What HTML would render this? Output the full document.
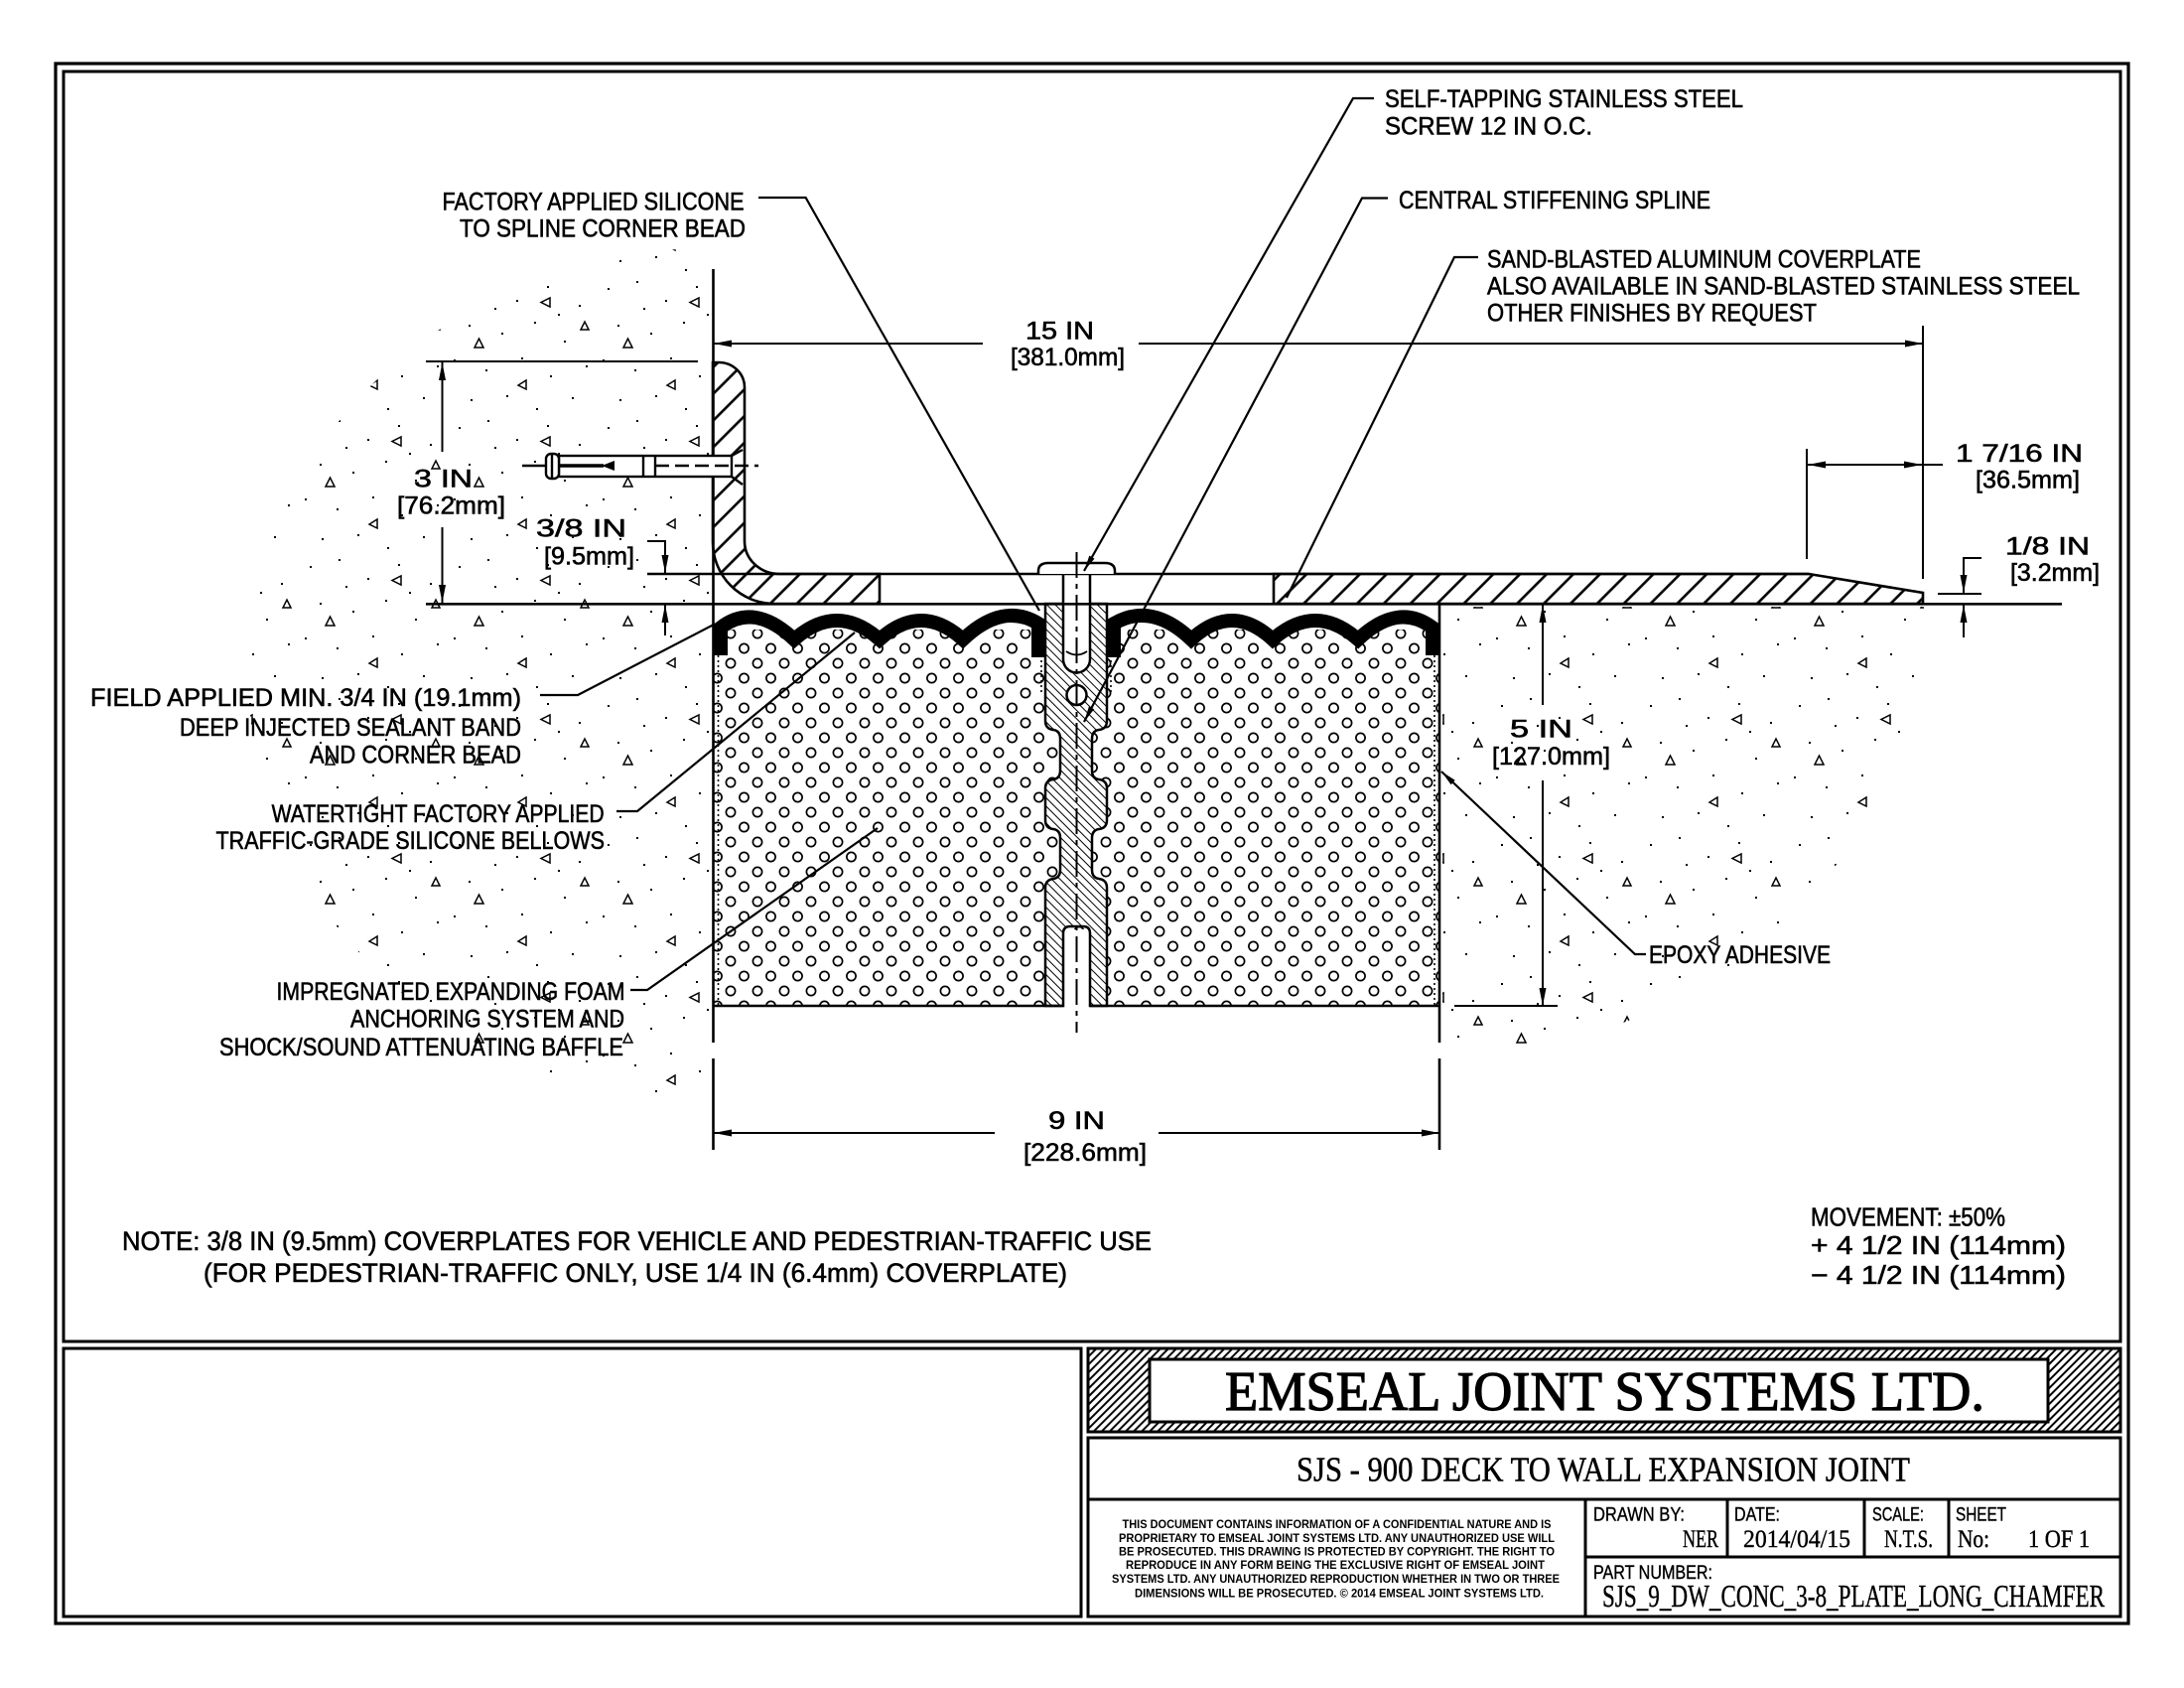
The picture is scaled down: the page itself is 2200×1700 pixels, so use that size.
<!DOCTYPE html>
<html><head><meta charset="utf-8"><style>
html,body{margin:0;padding:0;background:#fff;width:2200px;height:1700px;overflow:hidden}
svg{display:block}
.t{font-family:"Liberation Sans",sans-serif;font-size:25px;fill:#000;stroke:#000;stroke-width:0.6px}
.s{font-family:"Liberation Serif",serif;fill:#000}
.nb{stroke:none}
</style></head><body>
<svg width="2200" height="1700" viewBox="0 0 2200 1700" xmlns="http://www.w3.org/2000/svg">
<defs>
<pattern id="conc" width="150" height="140" patternUnits="userSpaceOnUse">
<g fill="#000">
<rect x="12" y="10" width="2" height="2"/><rect x="41" y="3" width="2" height="2"/>
<rect x="70" y="22" width="2" height="2"/><rect x="101" y="8" width="2" height="2"/>
<rect x="133" y="27" width="2" height="2"/><rect x="22" y="47" width="2" height="2"/>
<rect x="55" y="55" width="2" height="2"/><rect x="88" y="44" width="2" height="2"/>
<rect x="118" y="63" width="2" height="2"/><rect x="7" y="82" width="2" height="2"/>
<rect x="39" y="92" width="2" height="2"/><rect x="75" y="80" width="2" height="2"/>
<rect x="104" y="98" width="2" height="2"/><rect x="140" y="88" width="2" height="2"/>
<rect x="24" y="122" width="2" height="2"/><rect x="60" y="118" width="2" height="2"/>
<rect x="90" y="131" width="2" height="2"/><rect x="126" y="120" width="2" height="2"/>
<rect x="48" y="30" width="2" height="2"/><rect x="112" y="36" width="2" height="2"/>
</g>
<g fill="none" stroke="#000" stroke-width="1.5">
<path d="M28,70 l9,0 l-4.5,-9 z"/>
<path d="M104,20 l0,9 l-9,-4.5 z"/>
<path d="M80,112 l-8,-4 l8,-5 z"/>
<path d="M135,52 l8,0 l-4,-8 z"/>
</g>
</pattern>
<pattern id="foam" width="27" height="30" patternUnits="userSpaceOnUse">
<circle cx="7" cy="8" r="4.6" fill="none" stroke="#000" stroke-width="1.7"/>
<circle cx="20.5" cy="23" r="4.6" fill="none" stroke="#000" stroke-width="1.7"/>
</pattern>
<pattern id="hA" width="19" height="19" patternUnits="userSpaceOnUse" patternTransform="rotate(45)">
<line x1="9.5" y1="0" x2="9.5" y2="19" stroke="#000" stroke-width="2.6"/>
</pattern>
<pattern id="hS" width="6" height="6" patternUnits="userSpaceOnUse" patternTransform="rotate(-45)">
<line x1="3" y1="0" x2="3" y2="6" stroke="#000" stroke-width="1"/>
</pattern>
<pattern id="hT" width="5.7" height="5.7" patternUnits="userSpaceOnUse" patternTransform="rotate(45)">
<line x1="2.85" y1="0" x2="2.85" y2="5.7" stroke="#000" stroke-width="2"/>
</pattern>
<clipPath id="clipL"><path d="M716,250 A466,430 0 0 0 716,1110 Z"/></clipPath>
<clipPath id="clipR"><path d="M1453,611 H1938 A485,452 0 0 1 1453,1063 Z"/></clipPath>
</defs>

<!-- concrete stipple -->
<rect x="240" y="240" width="480" height="880" fill="url(#conc)" clip-path="url(#clipL)"/>
<rect x="1450" y="611" width="500" height="460" fill="url(#conc)" clip-path="url(#clipR)"/>

<!-- foam -->
<rect x="719" y="634" width="731" height="379" fill="url(#foam)"/>
<rect x="1071" y="936" width="27" height="77" fill="#fff"/>

<!-- spline -->
<path d="M1053,608 H1115 V726 Q1115,734 1107,735 Q1100,736 1100,744 V776 Q1100,784 1107,785 Q1115,786 1115,794 V826 Q1115,834 1107,835 Q1100,836 1100,844 V876 Q1100,884 1107,885 Q1115,886 1115,894 V1013 H1098 V940 Q1098,933 1091,933 H1078 Q1071,933 1071,940 V1013 H1053 V894 Q1053,886 1061,885 Q1068,884 1068,876 V844 Q1068,836 1061,835 Q1053,834 1053,826 V794 Q1053,786 1061,785 Q1068,784 1068,776 V744 Q1068,736 1061,735 Q1053,734 1053,726 Z" fill="#fff"/>
<path d="M1053,608 H1115 V726 Q1115,734 1107,735 Q1100,736 1100,744 V776 Q1100,784 1107,785 Q1115,786 1115,794 V826 Q1115,834 1107,835 Q1100,836 1100,844 V876 Q1100,884 1107,885 Q1115,886 1115,894 V1013 H1098 V940 Q1098,933 1091,933 H1078 Q1071,933 1071,940 V1013 H1053 V894 Q1053,886 1061,885 Q1068,884 1068,876 V844 Q1068,836 1061,835 Q1053,834 1053,826 V794 Q1053,786 1061,785 Q1068,784 1068,776 V744 Q1068,736 1061,735 Q1053,734 1053,726 Z" fill="url(#hS)" stroke="#000" stroke-width="2.5"/>

<!-- screw shank & circle -->
<path d="M1071,578 V664 A13.5,13.5 0 0 0 1098,664 V578" fill="#fff" stroke="#000" stroke-width="2.5"/>
<path d="M1074,656 Q1084.5,663 1095,656" fill="none" stroke="#000" stroke-width="1.8"/>
<circle cx="1084.5" cy="700" r="10" fill="#fff" stroke="#000" stroke-width="2.5"/>

<!-- bellows -->
<g fill="none" stroke="#000" stroke-width="14" stroke-linejoin="miter" stroke-miterlimit="4">
<path d="M726,660 V632 Q760,606 800,644 Q843,606 886,644 Q928,606 970,644 Q1010,606 1046,628 V662"/>
<path d="M1122,662 V628 Q1160,606 1200,644 Q1241,606 1282,644 Q1325,606 1368,644 Q1408,606 1443,632 V660"/>
</g>

<!-- epoxy dotted lines -->
<g stroke="#000" stroke-width="1.6" stroke-dasharray="2 3" fill="none">
<line x1="723.5" y1="655" x2="723.5" y2="1012"/>
<line x1="1445" y1="655" x2="1445" y2="1012"/>
<line x1="1049" y1="660" x2="1049" y2="700"/>
<line x1="1119" y1="660" x2="1119" y2="700"/>
</g>

<!-- main object lines -->
<g stroke="#000" stroke-width="2.6" fill="none">
<line x1="718.5" y1="271" x2="718.5" y2="1050"/>
<line x1="718.5" y1="1066" x2="718.5" y2="1158"/>
<line x1="1450" y1="608" x2="1450" y2="1050"/>
<line x1="1450" y1="1066" x2="1450" y2="1158"/>
<line x1="719" y1="1013" x2="1071" y2="1013"/>
<line x1="1098" y1="1013" x2="1450" y2="1013"/>
<line x1="429" y1="608.3" x2="2077" y2="608.3"/>
<line x1="652" y1="578" x2="1822" y2="578"/>
</g>

<!-- coverplate hatched -->
<path d="M1283,578 H1822 L1937,597 V608 H1283 Z" fill="url(#hA)" stroke="#000" stroke-width="2.6"/>

<!-- angle -->
<path d="M718,365 H724 A26,25 0 0 1 750,390 V545 A35,33 0 0 0 785,578 H886 V608 H780 A62,62 0 0 1 718,546 Z" fill="url(#hA)" stroke="#000" stroke-width="2.6"/>

<!-- screw head -->
<path d="M1046,578 V575 Q1046,567 1056,567 H1113 Q1123,567 1123,575 V578" fill="#fff" stroke="#000" stroke-width="2.5"/>
<line x1="1084.5" y1="556" x2="1084.5" y2="1040" stroke="#000" stroke-width="2" stroke-dasharray="26 6 5 6"/>

<!-- anchor -->
<g stroke="#000" stroke-width="2.4" fill="#fff">
<rect x="563" y="459" width="174" height="21"/>
<rect x="550" y="457" width="13" height="25" rx="5"/>
<line x1="556" y1="458" x2="556" y2="481"/>
<line x1="648" y1="459" x2="648" y2="480"/>
<line x1="660" y1="459" x2="660" y2="480"/>
<path d="M737,459 L748,453 M737,480 L748,488" fill="none"/>
<line x1="526" y1="469" x2="550" y2="469"/>
<line x1="563" y1="469" x2="608" y2="469" stroke-width="3.5"/>
<line x1="660" y1="469" x2="764" y2="469" stroke-dasharray="14 6"/>
</g>
<polygon points="606,469 619,464 619,474" fill="#000"/>

<!-- dimension lines -->
<g stroke="#000" stroke-width="2" fill="none">
<line x1="719" y1="346" x2="990" y2="346"/><line x1="1147" y1="346" x2="1937" y2="346"/>
<line x1="1937" y1="328" x2="1937" y2="583"/>
<line x1="1820" y1="452" x2="1820" y2="563"/>
<line x1="1820" y1="468" x2="1957" y2="468"/>
<line x1="1952" y1="598" x2="1996" y2="598"/>
<path d="M1996,562 H1978 V597"/>
<line x1="1978" y1="609" x2="1978" y2="642"/>
<line x1="429" y1="364" x2="703" y2="364"/>
<line x1="445.5" y1="364" x2="445.5" y2="455"/><line x1="445.5" y1="531" x2="445.5" y2="607"/>
<path d="M652,545 H670 V577"/>
<line x1="670" y1="609" x2="670" y2="640"/>
<line x1="1554" y1="609" x2="1554" y2="710"/><line x1="1554" y1="786" x2="1554" y2="1013"/>
<line x1="1465" y1="1013" x2="1569" y2="1013"/>
<line x1="719" y1="1141" x2="1002" y2="1141"/><line x1="1167" y1="1141" x2="1450" y2="1141"/>
</g>
<g fill="#000">
<polygon points="719,346 737,342.5 737,349.5"/>
<polygon points="1937,346 1919,342.5 1919,349.5"/>
<polygon points="1821,468 1839,464.5 1839,471.5"/>
<polygon points="1936,468 1918,464.5 1918,471.5"/>
<polygon points="1978,597 1974.5,579 1981.5,579"/>
<polygon points="1978,609 1974.5,627 1981.5,627"/>
<polygon points="445.5,365 442,383 449,383"/>
<polygon points="445.5,607 442,589 449,589"/>
<polygon points="670,577 666.5,559 673.5,559"/>
<polygon points="670,609 666.5,627 673.5,627"/>
<polygon points="1554,609 1550.5,627 1557.5,627"/>
<polygon points="1554,1013 1550.5,995 1557.5,995"/>
<polygon points="719,1141 737,1137.5 737,1144.5"/>
<polygon points="1450,1141 1432,1137.5 1432,1144.5"/>
<polygon points="1092,575 1102.5,562.6 1097.3,559.6"/>
<polygon points="1092,727 1102.2,714.3 1096.9,711.5"/>
<polygon points="1452,777 1465.7,785.8 1461.6,790.2"/>
</g>

<!-- leaders -->
<g stroke="#000" stroke-width="2.2" fill="none">
<path d="M764,199 H811.6 L1047,615"/>
<path d="M1384,99 H1363 L1092,575"/>
<path d="M1398,199.5 H1372 L1092,727"/>
<path d="M1489,259 H1465 L1296,602"/>
<path d="M544,700 H582 L719,629"/>
<path d="M621,817 H642 L861,637"/>
<path d="M635,997 H652 L884,834"/>
<path d="M1658,961 H1647 L1452,777"/>
</g>

<!-- labels -->
<text class="t" x="445.5" y="211.5" textLength="304" lengthAdjust="spacingAndGlyphs">FACTORY APPLIED SILICONE</text>
<text class="t" x="463" y="238.5" textLength="288" lengthAdjust="spacingAndGlyphs">TO SPLINE CORNER BEAD</text>
<text class="t" x="1395" y="108" textLength="361" lengthAdjust="spacingAndGlyphs">SELF-TAPPING STAINLESS STEEL</text>
<text class="t" x="1395" y="135.5" textLength="209" lengthAdjust="spacingAndGlyphs">SCREW 12 IN O.C.</text>
<text class="t" x="1409" y="210" textLength="314" lengthAdjust="spacingAndGlyphs">CENTRAL STIFFENING SPLINE</text>
<text class="t" x="1498" y="269.5" textLength="437" lengthAdjust="spacingAndGlyphs">SAND-BLASTED ALUMINUM COVERPLATE</text>
<text class="t" x="1498" y="296.5" textLength="597" lengthAdjust="spacingAndGlyphs">ALSO AVAILABLE IN SAND-BLASTED STAINLESS STEEL</text>
<text class="t" x="1498" y="323.6" textLength="332" lengthAdjust="spacingAndGlyphs">OTHER FINISHES BY REQUEST</text>
<text class="t" x="1033" y="341.7" textLength="69" lengthAdjust="spacingAndGlyphs">15 IN</text>
<text class="t" x="1018" y="368" textLength="115" lengthAdjust="spacingAndGlyphs">[381.0mm]</text>
<text class="t" x="1970" y="465" textLength="128" lengthAdjust="spacingAndGlyphs">1 7/16 IN</text>
<text class="t" x="1990" y="491.7" textLength="105" lengthAdjust="spacingAndGlyphs">[36.5mm]</text>
<text class="t" x="417" y="490.5" textLength="59" lengthAdjust="spacingAndGlyphs">3 IN</text>
<text class="t" x="400" y="517.6" textLength="109" lengthAdjust="spacingAndGlyphs">[76.2mm]</text>
<text class="t" x="540" y="540.7" textLength="91" lengthAdjust="spacingAndGlyphs">3/8 IN</text>
<text class="t" x="548" y="568.3" textLength="91" lengthAdjust="spacingAndGlyphs">[9.5mm]</text>
<text class="t" x="2020" y="558.3" textLength="85" lengthAdjust="spacingAndGlyphs">1/8 IN</text>
<text class="t" x="2025" y="585" textLength="90" lengthAdjust="spacingAndGlyphs">[3.2mm]</text>
<text class="t" x="1521" y="742.5" textLength="63" lengthAdjust="spacingAndGlyphs">5 IN</text>
<text class="t" x="1503" y="770" textLength="119" lengthAdjust="spacingAndGlyphs">[127.0mm]</text>
<text class="t" x="91" y="711" textLength="434" lengthAdjust="spacingAndGlyphs">FIELD APPLIED MIN. 3/4 IN (19.1mm)</text>
<text class="t" x="181" y="741" textLength="344" lengthAdjust="spacingAndGlyphs">DEEP INJECTED SEALANT BAND</text>
<text class="t" x="312" y="768.6" textLength="213" lengthAdjust="spacingAndGlyphs">AND CORNER BEAD</text>
<text class="t" x="273.6" y="828" textLength="335" lengthAdjust="spacingAndGlyphs">WATERTIGHT FACTORY APPLIED</text>
<text class="t" x="217.5" y="855" textLength="391.5" lengthAdjust="spacingAndGlyphs">TRAFFIC-GRADE SILICONE BELLOWS</text>
<text class="t" x="278.5" y="1007" textLength="351" lengthAdjust="spacingAndGlyphs">IMPREGNATED EXPANDING FOAM</text>
<text class="t" x="353" y="1034.3" textLength="276" lengthAdjust="spacingAndGlyphs">ANCHORING SYSTEM AND</text>
<text class="t" x="221" y="1063" textLength="407" lengthAdjust="spacingAndGlyphs">SHOCK/SOUND ATTENUATING BAFFLE</text>
<text class="t" x="1056" y="1137" textLength="57" lengthAdjust="spacingAndGlyphs">9 IN</text>
<text class="t" x="1031" y="1169" textLength="124" lengthAdjust="spacingAndGlyphs">[228.6mm]</text>
<text class="t" x="1661" y="970" textLength="183" lengthAdjust="spacingAndGlyphs">EPOXY ADHESIVE</text>
<text class="t" style="font-size:27px" x="123" y="1259" textLength="1037" lengthAdjust="spacingAndGlyphs">NOTE: 3/8 IN (9.5mm) COVERPLATES FOR VEHICLE AND PEDESTRIAN-TRAFFIC USE</text>
<text class="t" style="font-size:27px" x="205" y="1291" textLength="870" lengthAdjust="spacingAndGlyphs">(FOR PEDESTRIAN-TRAFFIC ONLY, USE 1/4 IN (6.4mm) COVERPLATE)</text>
<text class="t" style="font-size:26px" x="1824" y="1234.5" textLength="196" lengthAdjust="spacingAndGlyphs">MOVEMENT: ±50%</text>
<text class="t" style="font-size:26px" x="1824" y="1263" textLength="257" lengthAdjust="spacingAndGlyphs">+ 4 1/2 IN (114mm)</text>
<text class="t" style="font-size:26px" x="1824" y="1293" textLength="257" lengthAdjust="spacingAndGlyphs">− 4 1/2 IN (114mm)</text>

<!-- frame -->
<g fill="none" stroke="#000">
<rect x="56" y="64" width="2088" height="1571" stroke-width="3.2"/>
<rect x="64" y="72" width="2072" height="1279" stroke-width="3"/>
<rect x="64" y="1358" width="1025" height="270" stroke-width="3"/>
</g>
<!-- title block -->
<rect x="1096" y="1358" width="1040" height="84" fill="url(#hT)" stroke="#000" stroke-width="3"/>
<rect x="1158" y="1369" width="905" height="63" fill="#fff" stroke="#000" stroke-width="3"/>
<g fill="none" stroke="#000" stroke-width="3">
<rect x="1096" y="1448" width="1040" height="180"/>
<line x1="1096" y1="1510" x2="2136" y2="1510"/>
<line x1="1597" y1="1510" x2="1597" y2="1628"/>
<line x1="1740" y1="1510" x2="1740" y2="1568"/>
<line x1="1878" y1="1510" x2="1878" y2="1568"/>
<line x1="1963" y1="1510" x2="1963" y2="1568"/>
<line x1="1597" y1="1568" x2="2136" y2="1568"/>
</g>
<text class="s" style="font-size:56px;stroke:#000;stroke-width:1.2px" x="1234" y="1420" textLength="765" lengthAdjust="spacingAndGlyphs">EMSEAL JOINT SYSTEMS LTD.</text>
<text class="s" style="font-size:35px;stroke:#000;stroke-width:0.5px" x="1306" y="1491.5" textLength="618" lengthAdjust="spacingAndGlyphs">SJS - 900 DECK TO WALL EXPANSION JOINT</text>
<g class="t nb" style="font-size:12px;font-weight:bold">
<text x="1130.5" y="1539" textLength="432" lengthAdjust="spacingAndGlyphs">THIS DOCUMENT CONTAINS INFORMATION OF A CONFIDENTIAL NATURE AND IS</text>
<text x="1127" y="1553" textLength="439" lengthAdjust="spacingAndGlyphs">PROPRIETARY TO EMSEAL JOINT SYSTEMS LTD. ANY UNAUTHORIZED USE WILL</text>
<text x="1127" y="1566.5" textLength="439" lengthAdjust="spacingAndGlyphs">BE PROSECUTED. THIS DRAWING IS PROTECTED BY COPYRIGHT. THE RIGHT TO</text>
<text x="1134" y="1580" textLength="422" lengthAdjust="spacingAndGlyphs">REPRODUCE IN ANY FORM BEING THE EXCLUSIVE RIGHT OF EMSEAL JOINT</text>
<text x="1120" y="1594" textLength="451" lengthAdjust="spacingAndGlyphs">SYSTEMS LTD. ANY UNAUTHORIZED REPRODUCTION WHETHER IN TWO OR THREE</text>
<text x="1143" y="1608.5" textLength="412" lengthAdjust="spacingAndGlyphs">DIMENSIONS WILL BE PROSECUTED. © 2014 EMSEAL JOINT SYSTEMS LTD.</text>
</g>
<g class="t" style="font-size:19px;stroke-width:0.4px">
<text x="1605" y="1531.5" textLength="92" lengthAdjust="spacingAndGlyphs">DRAWN BY:</text>
<text x="1747" y="1531.5" textLength="46" lengthAdjust="spacingAndGlyphs">DATE:</text>
<text x="1886" y="1531.5" textLength="52" lengthAdjust="spacingAndGlyphs">SCALE:</text>
<text x="1970" y="1531.5" textLength="51" lengthAdjust="spacingAndGlyphs">SHEET</text>
<text x="1605" y="1590" textLength="120" lengthAdjust="spacingAndGlyphs">PART NUMBER:</text>
</g>
<g class="s" style="font-size:25px;stroke:#000;stroke-width:0.4px">
<text x="1695" y="1558" textLength="36" lengthAdjust="spacingAndGlyphs">NER</text>
<text x="1756" y="1558" textLength="108" lengthAdjust="spacingAndGlyphs">2014/04/15</text>
<text x="1898" y="1558" textLength="49" lengthAdjust="spacingAndGlyphs">N.T.S.</text>
<text x="1972" y="1558" textLength="32" lengthAdjust="spacingAndGlyphs">No:</text>
<text x="2043" y="1558" textLength="62" lengthAdjust="spacingAndGlyphs">1 OF 1</text>
</g>
<text class="s" style="font-size:32px;stroke:#000;stroke-width:0.4px" x="1614" y="1618" textLength="506" lengthAdjust="spacingAndGlyphs">SJS_9_DW_CONC_3-8_PLATE_LONG_CHAMFER</text>
</svg>
</body></html>
